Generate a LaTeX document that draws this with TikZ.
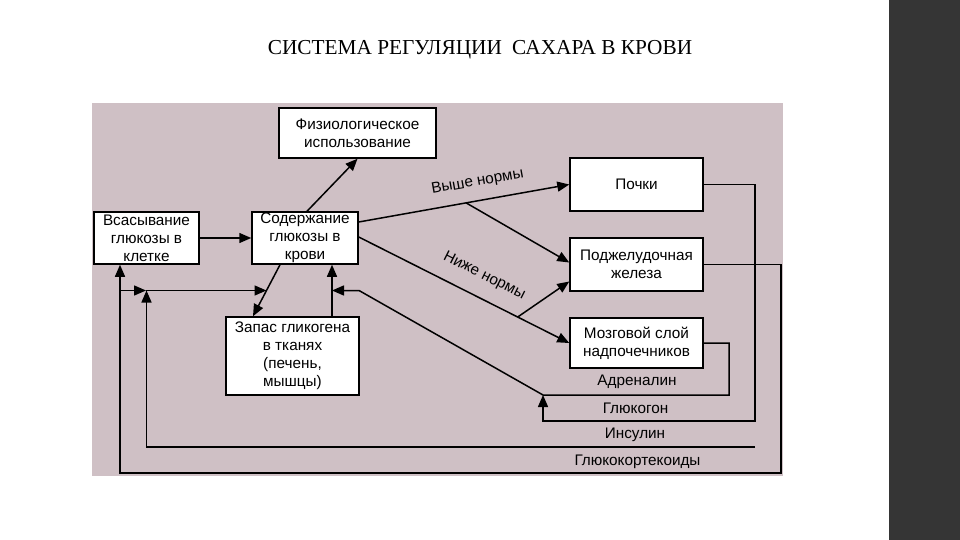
\documentclass[tikz,border=0pt]{standalone}
\usepackage{fontspec}
\setmainfont{Liberation Sans}
\newfontfamily\titlefont{Liberation Serif}
\usetikzlibrary{arrows.meta}
\definecolor{bgpink}{RGB}{207,192,197}
\definecolor{bardark}{RGB}{53,53,53}

\begin{document}
\begin{tikzpicture}[x=1pt, y=-1pt,
	box/.style={draw, fill=white, line width=1.5pt, align=center, inner sep=0pt, font=\fontsize{15.3}{18}\selectfont},
	arr/.style={line width=1.5pt, -{Triangle[length=12pt,width=10pt]}},
	lbl/.style={font=\fontsize{15.3}{18}\selectfont, inner sep=0pt}]
	%page and frame
		\useasboundingbox (0,0) rectangle (960,540);
		\fill[white] (0,0) rectangle (960,540);
		\fill[bardark] (889,0) rectangle (960,540);
		\fill[bgpink] (92,103) rectangle (783,476);
		\node (title) at (480,50) [font=\titlefont\fontsize{21.3}{24}\selectfont]{СИСТЕМА РЕГУЛЯЦИИ\hspace{5pt} САХАРА В КРОВИ};
		
	%boxes
		\node (absorb) at (146.5,238) [box, minimum width=105pt, minimum height=52pt]{Всасывание\\глюкозы в\\клетке};
		\node (blood) at (305,238) [box, minimum width=106pt, minimum height=52pt]{Содержание\\глюкозы в\\крови};
		\node (phys) at (357.5,133) [box, minimum width=157pt, minimum height=50pt]{Физиологическое\\использование};
		\node (store) at (292.5,356) [box, minimum width=133pt, minimum height=78pt]{Запас гликогена\\в тканях\\(печень,\\мышцы)};
		\node (kidney) at (636.5,184.5) [box, minimum width=133pt, minimum height=53pt]{Почки};
		\node (pancreas) at (636.5,264.5) [box, minimum width=133pt, minimum height=53pt]{Поджелудочная\\железа};
		\node (adrenal) at (636.5,343) [box, minimum width=133pt, minimum height=50pt]{Мозговой слой\\надпочечников};
		
	%blood level
		\draw[arr] (absorb) -- (blood);
		\draw[arr] ([xshift=2pt]blood.north) -- (phys.south);
		\draw[arr] ([yshift=16pt]blood.east) -- coordinate[pos=0.51] (hi) node[lbl, pos=0.58, sloped, above=11pt]{Выше нормы} (kidney.west);
		\draw[arr] (hi) -- ([yshift=2pt]pancreas.west);
		\draw[arr] ([yshift=1pt]blood.east) -- coordinate[pos=0.755] (lo) node[lbl, pos=0.55, sloped, above=14pt]{Ниже нормы} (adrenal.west);
		\draw[arr] (lo) -- ([yshift=-17pt]pancreas.west);
		\draw[arr] ([xshift=-25pt]blood.south) -- coordinate[pos=0.5] (dm) ([xshift=-39.5pt]store.north);
		\draw[arr] ([xshift=39.5pt]store.north) -- coordinate[pos=0.5] (sm) ([xshift=27pt]blood.south);
		
	%hormones
		\coordinate (ar) at (729,395);
		\coordinate (ad) at (543,395);
		\coordinate (adin) at (359,290.5);
		\coordinate (gc) at (755,421);
		\coordinate (in) at (755,447);
		\coordinate (gk) at (781,473);
		\coordinate (gs) at (120,290.5);
		\coordinate (gt) at (146,290.5);
		\draw[arr] (adrenal.east) -| (ar) -- (ad) -- (adin) -- (sm);
		\draw[arr] (kidney.east) -| (gc) -| (ad);
		\draw[arr] (in) -| (absorb.south |- gs);
		\draw[arr] (pancreas.east) -| (gk) -| ([xshift=-26.5pt]absorb.south);
		\draw[arr] (gs) -- (gt);
		\draw[arr] (gt) -- (dm);
		\node (adrl) at (637,382) [lbl]{Адреналин};
		\node (glcg) at (635.5,408) [lbl]{Глюкогон};
		\node (insl) at (635,435) [lbl]{Инсулин};
		\node (glck) at (637.5,462) [lbl]{Глюкокортекоиды};
	\end{tikzpicture}
\end{document}
